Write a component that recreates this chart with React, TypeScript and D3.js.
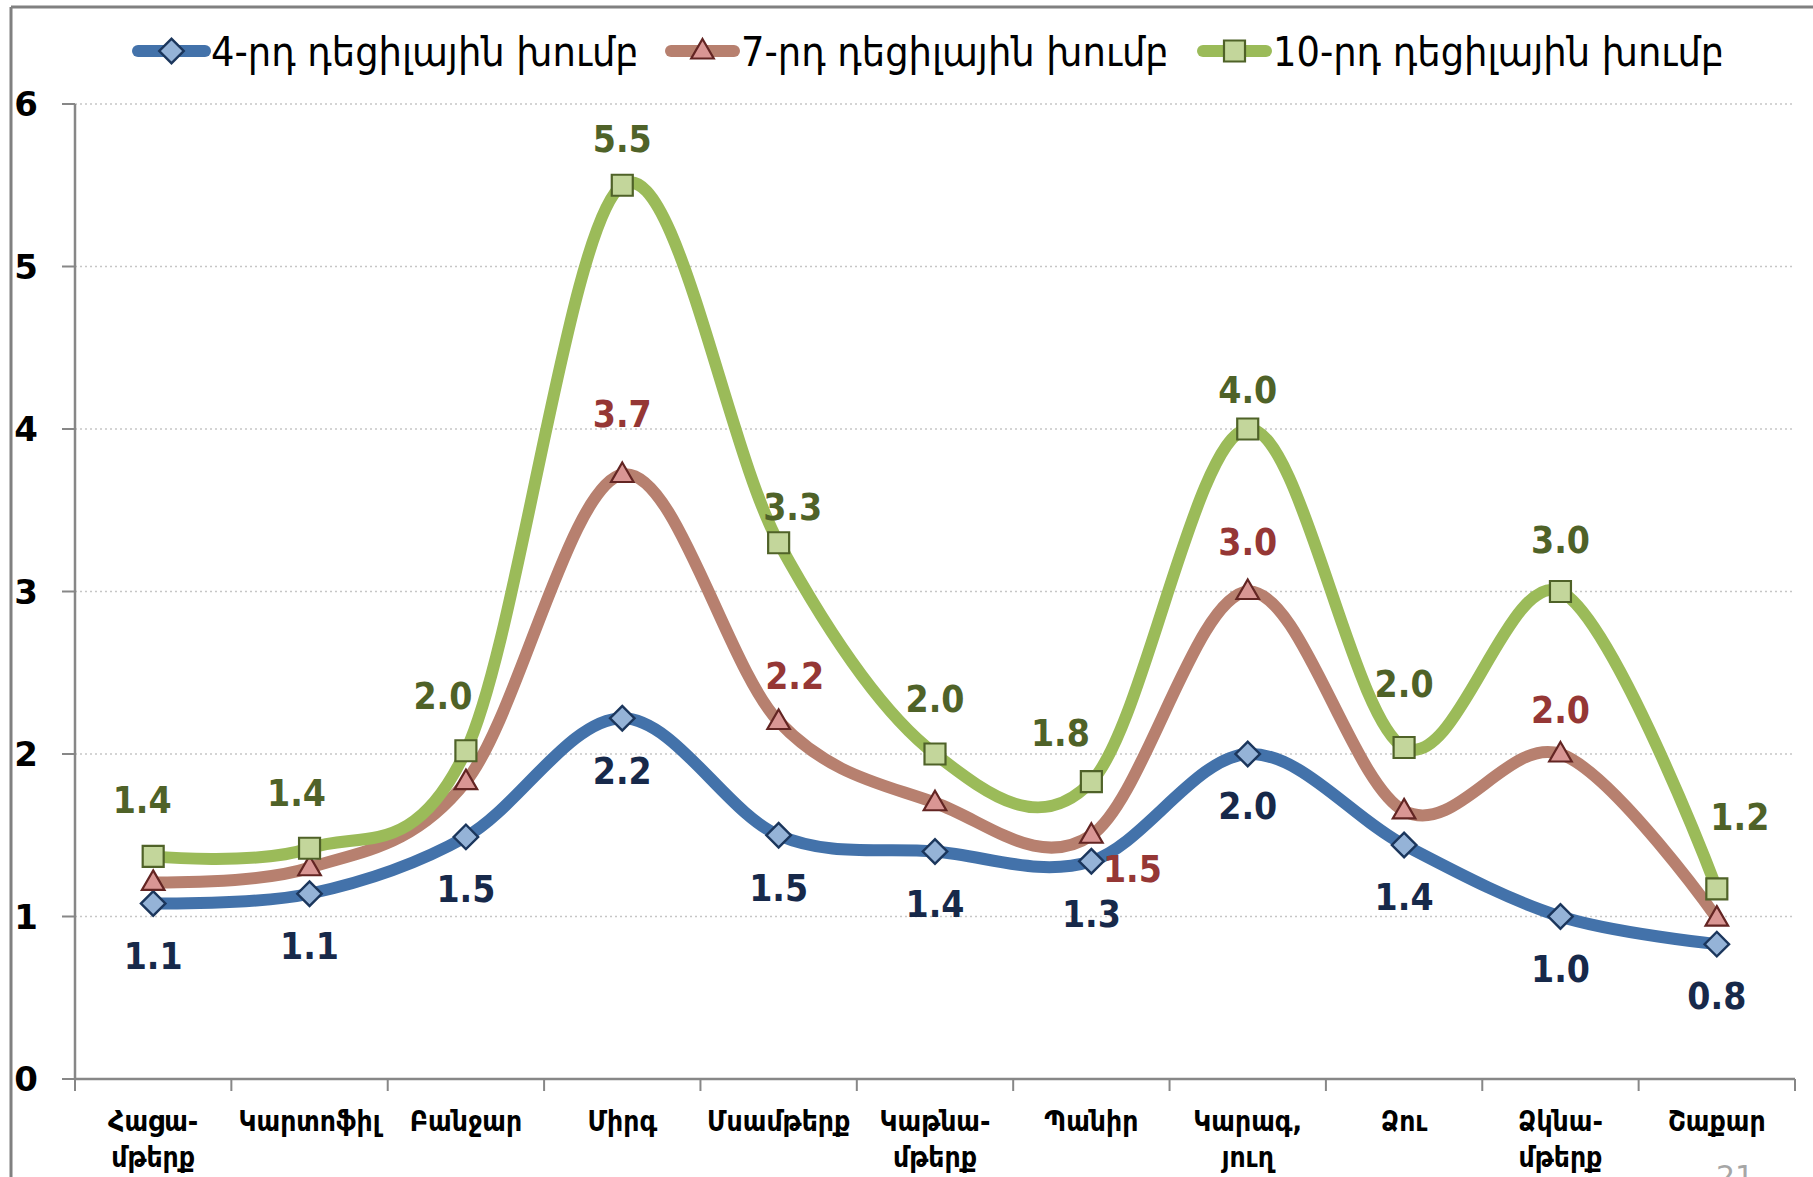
import React from "react";
import * as d3 from "d3";

const categories: string[][] = [
  ["Հացա-", "մթերք"],
  ["Կարտոֆիլ"],
  ["Բանջար"],
  ["Միրգ"],
  ["Մսամթերք"],
  ["Կաթնա-", "մթերք"],
  ["Պանիր"],
  ["Կարագ,", "յուղ"],
  ["Ձու"],
  ["Ձկնա-", "մթերք"],
  ["Շաքար"],
];

const seriesNames = [
  "4-րդ դեցիլային խումբ",
  "7-րդ դեցիլային խումբ",
  "10-րդ դեցիլային խումբ",
];

const decile4 = [1.08, 1.14, 1.49, 2.22, 1.5, 1.4, 1.34, 2.0, 1.44, 1.0, 0.83];
const decile7 = [1.21, 1.3, 1.83, 3.72, 2.2, 1.7, 1.5, 3.0, 1.65, 2.0, 0.99];
const decile10 = [1.37, 1.42, 2.02, 5.5, 3.3, 2.0, 1.83, 4.0, 2.04, 3.0, 1.17];

// which labels are shown and the text shown
const labels4 = ["1.1", "1.1", "1.5", "2.2", "1.5", "1.4", "1.3", "2.0", "1.4", "1.0", "0.8"];
const labels7 = [null, null, null, "3.7", "2.2", null, "1.5", "3.0", null, "2.0", null];
const labels10 = ["1.4", "1.4", "2.0", "5.5", "3.3", "2.0", "1.8", "4.0", "2.0", "3.0", "1.2"];

const yTicks = [0, 1, 2, 3, 4, 5, 6];

// label nudges (layout, in px)
const nudge4: [number, number][] = categories.map(() => [0, 52]);
const nudge7: [number, number][] = [
  [0, -50], [0, -50], [0, -50], [0, -61], [16, -46], [0, -50], [41, 33], [0, -50], [0, -50], [0, -44], [0, -50],
];
const nudge10: [number, number][] = [
  [-11, -57], [-13, -56], [-23, -55], [0, -47], [14, -36], [0, -55], [-31, -49], [0, -39], [0, -64], [0, -52], [23, -72],
];

const W = 1813;
const H = 1177;
const plotLeft = 75;
const plotRight = 1795;
const plotTop = 104;
const plotBottom = 1079;

const lineColors = ["#4372AA", "#B7806F", "#9BBB59"];
const markerFill = ["#95B3D7", "#D99694", "#C3D69B"];
const markerStroke = ["#1B365C", "#632523", "#4F6228"];
const labelColors = ["#17294A", "#953735", "#4F6228"];

export default function App() {
  const x = d3
    .scaleBand<number>()
    .domain(d3.range(categories.length))
    .range([plotLeft, plotRight]);
  const cx = (i: number) => (x(i) as number) + x.bandwidth() / 2;
  const y = d3.scaleLinear().domain([0, 6]).range([plotBottom, plotTop]);

  const line = d3
    .line<number>()
    .x((_, i) => cx(i))
    .y((d) => y(d))
    .curve(d3.curveCatmullRom.alpha(0));

  const allSeries = [decile4, decile7, decile10];
  const allLabels = [labels4, labels7, labels10];
  const allNudges = [nudge4, nudge7, nudge10];

  const squarePath = d3.symbol().type(d3.symbolSquare).size(441)() as string;
  const diamondPath = d3.symbol().type(d3.symbolSquare).size(300)() as string;
  const trianglePath = d3.symbol().type(d3.symbolTriangle).size(220)() as string;

  const marker = (s: number, key: string, tx: number, ty: number) => {
    if (s === 0)
      return (
        <path key={key} d={diamondPath} transform={`translate(${tx},${ty}) rotate(45)`}
          fill={markerFill[0]} stroke={markerStroke[0]} strokeWidth={2.4} />
      );
    if (s === 1)
      return (
        <path key={key} d={trianglePath} transform={`translate(${tx},${ty + 1})`}
          fill={markerFill[1]} stroke={markerStroke[1]} strokeWidth={2.2} />
      );
    return (
      <path key={key} d={squarePath} transform={`translate(${tx},${ty})`}
        fill={markerFill[2]} stroke={markerStroke[2]} strokeWidth={2.2} />
    );
  };

  const legendItems = [
    { x0: 138, x1: 205, tx: 211 },
    { x0: 671, x1: 734, tx: 741 },
    { x0: 1203, x1: 1266, tx: 1273 },
  ];
  const legendY = 51;

  return (
    <svg width={W} height={H} style={{ position: "absolute", left: 0, top: 0, background: "#fff" }}>
      <rect x={0} y={0} width={W} height={H} fill="#fff" />
      {/* frame */}
      <line x1={11} y1={7} x2={W} y2={7} stroke="#808080" strokeWidth={3} />
      <line x1={11} y1={7} x2={11} y2={H} stroke="#808080" strokeWidth={3} />

      {/* gridlines */}
      {yTicks.filter((t) => t > 0).map((t) => (
        <line key={"g" + t} x1={plotLeft} x2={plotRight} y1={y(t)} y2={y(t)}
          stroke="#c6c6c6" strokeWidth={1.5} strokeDasharray="2,3" />
      ))}

      {/* y axis */}
      <line x1={plotLeft} x2={plotLeft} y1={plotTop} y2={plotBottom} stroke="#878787" strokeWidth={2.5} />
      {yTicks.map((t) => (
        <g key={"yt" + t}>
          <line x1={plotLeft - 13} x2={plotLeft} y1={y(t)} y2={y(t)} stroke="#878787" strokeWidth={2} />
          <text x={26} y={y(t)} dy="0.36em" textAnchor="middle" fontFamily="DejaVu Sans" fontWeight="bold"
            fontSize={34} fill="#000">{t}</text>
        </g>
      ))}

      {/* x axis */}
      <line x1={plotLeft} x2={plotRight} y1={plotBottom} y2={plotBottom} stroke="#878787" strokeWidth={2.5} />
      {d3.range(categories.length + 1).map((i) => {
        const xx = i < categories.length ? (x(i) as number) : plotRight;
        return <line key={"xt" + i} x1={xx} x2={xx} y1={plotBottom} y2={plotBottom + 12} stroke="#878787" strokeWidth={2} />;
      })}
      {categories.map((c, i) => (
        <text key={"xl" + i} x={cx(i)} textAnchor="middle" fontFamily="DejaVu Sans Condensed" fontWeight="bold"
          fontSize={28} fill="#000">
          {c.map((ln, k) => (
            <tspan key={k} x={cx(i)} y={1131 + k * 36}>{ln}</tspan>
          ))}
        </text>
      ))}

      {/* lines */}
      {allSeries.map((s, si) => (
        <path key={"l" + si} d={line(s) as string} fill="none" stroke={lineColors[si]} strokeWidth={12}
          strokeLinecap="round" strokeLinejoin="round" />
      ))}

      {/* markers */}
      {allSeries.map((s, si) => s.map((v, i) => marker(si, `m${si}-${i}`, cx(i), y(v))))}

      {/* data labels */}
      {allSeries.map((s, si) =>
        s.map((v, i) => {
          const lab = allLabels[si][i];
          if (!lab) return null;
          const [dx, dy] = allNudges[si][i];
          return (
            <text key={`dl${si}-${i}`} x={cx(i) + dx} y={y(v) + dy} dy="0.36em" textAnchor="middle"
              fontFamily="DejaVu Sans Condensed" fontWeight="bold" fontSize={37} fill={labelColors[si]}>
              {lab}
            </text>
          );
        })
      )}

      {/* legend */}
      {legendItems.map((li, si) => (
        <g key={"lg" + si}>
          <line x1={li.x0} x2={li.x1} y1={legendY} y2={legendY} stroke={lineColors[si]} strokeWidth={12} strokeLinecap="round" />
          {marker(si, "lm" + si, (li.x0 + li.x1) / 2, legendY)}
          <text x={li.tx} y={legendY} dy="0.36em" fontFamily="DejaVu Sans Condensed" fontSize={41} fill="#000">
            {seriesNames[si]}
          </text>
        </g>
      ))}

      {/* page number */}
      <text x={1735} y={1187} textAnchor="middle" fontFamily="DejaVu Sans" fontSize={30} fill="#a6a6a6">21</text>
    </svg>
  );
}
